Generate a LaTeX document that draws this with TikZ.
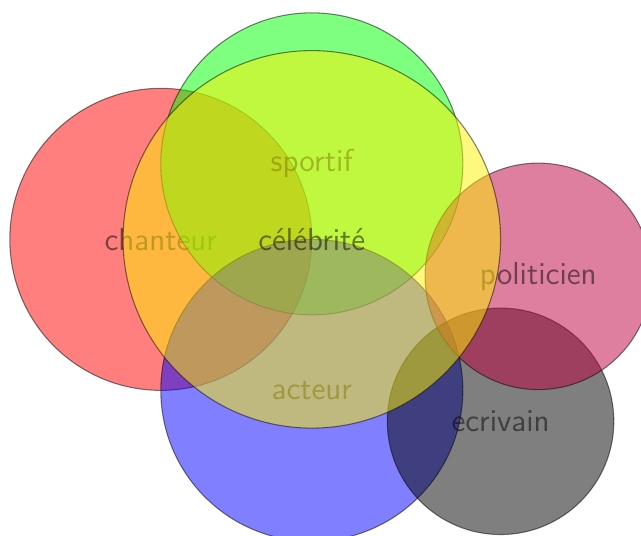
\documentclass[tikz,border=0pt]{standalone}
\begin{document}
\begin{tikzpicture}[
  set/.style={draw=black, fill=#1, opacity=0.5, font=\large\sffamily},
]
\clip (-4.13,-3.92) rectangle (4.36,3.17);
\useasboundingbox (-4.13,-3.92) rectangle (4.36,3.17);
% the categories, each drawn with its own label
\path[set=red]    (-2,0)      circle (2)   node (chanteur) {chanteur};
\path[set=green]  (0,1)       circle (2)   node (sportif) {sportif};
\path[set=blue]   (0,-2)      circle (2)   node (acteur) {acteur};
\path[set=black]  (2.5,-2.41) circle (1.5) node (ecrivain) {ecrivain};
\path[set=purple] (3,-0.49)   circle (1.5) node (politicien) {politicien};
% the enclosing set
\path[set=yellow] (0,0)       circle (2.5) node (celebrite) {célébrité};
\end{tikzpicture}
\end{document}
